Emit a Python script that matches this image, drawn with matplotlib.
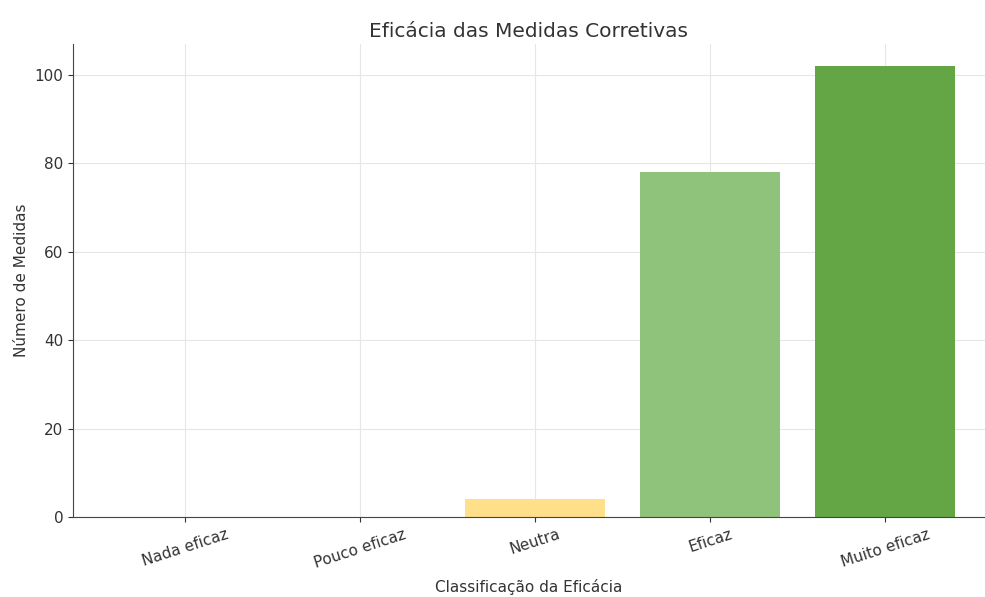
import matplotlib
matplotlib.use("Agg")
import matplotlib.pyplot as plt

categorias = ["Nada eficaz", "Pouco eficaz", "Neutra", "Eficaz", "Muito eficaz"]
contagens = [0, 0, 4, 78, 102]
cores = ["#d9534f", "#f0ad4e", "#ffdf8a", "#8fc27a", "#64a646"]

fig = plt.figure(figsize=(9.85, 5.97), dpi=100)
ax = fig.add_axes([0.074, 0.134, 0.926, 0.793])

x = list(range(len(categorias)))
ax.bar(x, contagens, width=0.8, color=cores, zorder=2)

ax.set_xticks(x)
ax.set_xticklabels(categorias, rotation=18, fontsize=11, color="#333333")
ax.set_xlim(-0.64, 4.57)
ax.set_ylim(0, 107.1)
ax.set_yticks([0, 20, 40, 60, 80, 100])
ax.tick_params(axis="y", labelsize=11, colors="#333333")
ax.tick_params(axis="both", color="#333333")

ax.grid(True, color="#e6e6e6", linewidth=0.8, zorder=0)
ax.set_axisbelow(True)
for s in ["top", "right"]:
    ax.spines[s].set_visible(False)
for s in ["left", "bottom"]:
    ax.spines[s].set_color("#444444")

ax.set_title("Eficácia das Medidas Corretivas", fontsize=14.5, color="#333333", pad=5)
ax.set_xlabel("Classificação da Eficácia", fontsize=11, color="#333333", labelpad=6)
ax.set_ylabel("Número de Medidas", fontsize=11, color="#333333")

fig.savefig("out.png", dpi=100)
